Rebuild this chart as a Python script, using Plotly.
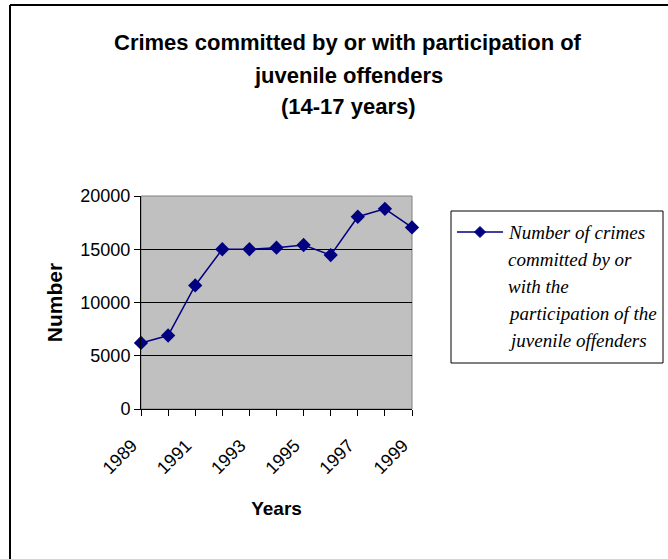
import plotly.graph_objects as go

# Crimes committed by or with participation of juvenile offenders (14-17 years)
years = [1989, 1990, 1991, 1992, 1993, 1994, 1995, 1996, 1997, 1998, 1999]
crimes = [6200, 6900, 11600, 15000, 15000, 15150, 15400, 14450, 18050, 18800, 17050]
tick_labels = ["1989", "", "1991", "", "1993", "", "1995", "", "1997", "", "1999"]

legend_lines = ["Number of crimes", "committed by or", "with the",
                "participation of the", "juvenile offenders"]

W, H = 668, 559
L, R, T, B = 141, 412, 196, 409  # plot area edges in pixels
NAVY = "#000080"


def px_x(p):
    return (p - L) / (R - L)


def px_y(p):
    return (B - p) / (B - T)


fig = go.Figure()
fig.add_trace(go.Scatter(
    x=years, y=crimes, mode="lines+markers", name=" ".join(legend_lines),
    line=dict(color=NAVY, width=1.5),
    marker=dict(symbol="diamond", size=11, color=NAVY),
    cliponaxis=False, showlegend=False,
))

# title, three centred lines
title_font = dict(family="Liberation Sans, Arial, sans-serif", size=22, color="#000000")
title_lines = [("<b>Crimes committed by or with participation of</b>", 42),
               ("<b>juvenile offenders</b>", 75),
               ("<b>(14-17 years)</b>", 107)]
annotations = [dict(text=t, x=px_x(348), y=px_y(yc), xref="paper", yref="paper",
                    xanchor="center", yanchor="middle", showarrow=False,
                    font=title_font) for t, yc in title_lines]

# legend text, one annotation per line
legend_font = dict(family="Liberation Serif, Times New Roman, serif", size=19, color="#000000")
for i, line in enumerate(legend_lines):
    annotations.append(dict(
        text=f"<i>{line}</i>", x=px_x(506), y=px_y(232 + 27.2 * i),
        xref="paper", yref="paper", xanchor="left", yanchor="middle",
        showarrow=False, font=legend_font))

# legend key: line with a diamond in the middle
kx0, kx1, ky, kd = 457, 503, 232, 5.5
diamond = (f"M {px_x(480)},{px_y(ky - kd)} L {px_x(480 + kd)},{px_y(ky)} "
           f"L {px_x(480)},{px_y(ky + kd)} L {px_x(480 - kd)},{px_y(ky)} Z")

shapes = [
    # chart frame (left and top edges)
    dict(type="line", xref="paper", yref="paper", x0=px_x(10), x1=px_x(10),
         y0=px_y(5), y1=px_y(565), line=dict(color="#000000", width=2)),
    dict(type="line", xref="paper", yref="paper", x0=px_x(10), x1=px_x(675),
         y0=px_y(5), y1=px_y(5), line=dict(color="#000000", width=2)),
    # plot area outline
    dict(type="rect", xref="paper", yref="paper", x0=0, x1=1, y0=0, y1=1,
         line=dict(color="#808080", width=1), layer="below"),
    # legend box
    dict(type="rect", xref="paper", yref="paper", x0=px_x(451), x1=px_x(663),
         y0=px_y(211), y1=px_y(363), line=dict(color="#000000", width=1),
         fillcolor="#ffffff"),
    dict(type="line", xref="paper", yref="paper", x0=px_x(kx0), x1=px_x(kx1),
         y0=px_y(ky), y1=px_y(ky), line=dict(color=NAVY, width=1.5)),
    dict(type="path", xref="paper", yref="paper", path=diamond,
         fillcolor=NAVY, line=dict(color=NAVY, width=1)),
]

fig.update_layout(
    width=W, height=H,
    margin=dict(l=L, r=W - R, t=T, b=H - B, pad=0),
    paper_bgcolor="#ffffff",
    plot_bgcolor="#C0C0C0",
    font=dict(family="Liberation Sans, Arial, sans-serif", size=18, color="#000000"),
    showlegend=False,
    annotations=annotations,
    shapes=shapes,
    xaxis=dict(
        range=[years[0], years[-1]], tickmode="array", tickvals=years, ticktext=tick_labels,
        tickangle=-45, ticks="outside", ticklen=6, tickcolor="#000000",
        ticklabelstandoff=12, ticklabelshift=-9,
        showline=True, linecolor="#000000", linewidth=1, showgrid=False, zeroline=False,
        tickfont=dict(size=18),
        title=dict(text="<b>Years</b>", font=dict(size=19), standoff=24),
    ),
    yaxis=dict(
        range=[0, 20000], dtick=5000, tickformat="d", ticks="outside", ticklen=6,
        tickcolor="#000000",
        showline=True, linecolor="#000000", linewidth=1,
        showgrid=True, gridcolor="#000000", gridwidth=1, zeroline=False,
        tickfont=dict(size=18),
        title=dict(text="<b>Number</b>", font=dict(size=21), standoff=11),
    ),
)

fig.write_html("out.html")
